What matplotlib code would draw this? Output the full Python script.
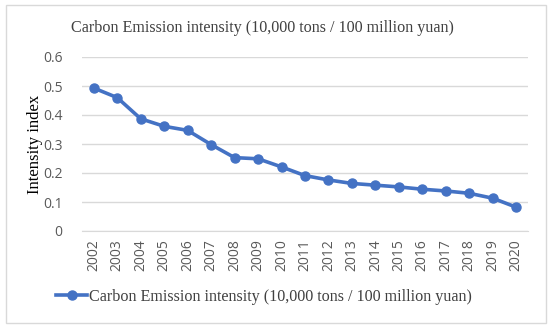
import matplotlib
matplotlib.use("Agg")
import matplotlib.pyplot as plt
from matplotlib.patches import Rectangle
from matplotlib.lines import Line2D

years = [str(y) for y in range(2002, 2021)]
values = [0.493, 0.460, 0.387, 0.361, 0.347, 0.298, 0.253, 0.249, 0.221, 0.191,
          0.176, 0.164, 0.158, 0.152, 0.144, 0.138, 0.130, 0.113, 0.082]
yticks = [0, 0.1, 0.2, 0.3, 0.4, 0.5, 0.6]
ytick_labels = ["0", "0.1", "0.2", "0.3", "0.4", "0.5", "0.6"]
title = "Carbon Emission intensity (10,000 tons / 100 million yuan)"
ylabel = "Intensity index"

W, H = 550, 326
fig = plt.figure(figsize=(W / 100, H / 100), dpi=100)
fig.patch.set_facecolor("white")

# outer chart border
fig.patches.append(Rectangle((6 / W, 3 / H), 540 / W, 318 / H, transform=fig.transFigure,
                             fill=False, edgecolor="#D9D9D9", linewidth=1))

ax = fig.add_axes([82 / W, 95 / H, 446 / W, 174 / H])
color = "#4472C4"
x = list(range(len(years)))
ax.plot(x, values, color=color, linewidth=2.6, marker="o", markersize=6.5)

ax.set_xlim(-0.5, len(years) - 0.5)
ax.set_ylim(0, 0.6)
ax.set_yticks(yticks)
ax.set_yticklabels(ytick_labels)
ax.set_xticks(x)
ax.set_xticklabels(years, rotation=90)
ax.grid(axis="y", color="#D9D9D9", linewidth=1)
ax.set_axisbelow(True)
for s in ["top", "right", "left"]:
    ax.spines[s].set_visible(False)
ax.spines["bottom"].set_color("#D9D9D9")
ax.tick_params(axis="y", length=0, labelsize=10, labelcolor="#595959", pad=14)
ax.tick_params(axis="x", length=0, labelsize=10, labelcolor="#595959", pad=6)
for lab in ax.get_xticklabels() + ax.get_yticklabels():
    lab.set_family("Open Sans")

ax.set_ylabel(ylabel, family="Liberation Serif", fontsize=12, color="#000000")
ax.yaxis.set_label_coords(-0.088, 0.5)

fig.text(0.478, 1 - 28 / H, title, ha="center", va="center",
         family="Liberation Serif", fontsize=11.6, color="#404040")

# legend
leg_handle = Line2D([], [], color=color, linewidth=2.6, marker="o", markersize=6.5)
fig.legend([leg_handle], [title], loc="center", bbox_to_anchor=(0.48, 1 - 297 / H),
           frameon=False, prop={"family": "Liberation Serif", "size": 11.6},
           handlelength=1.9, handletextpad=0.1, labelcolor="#404040")

fig.savefig("out.png", dpi=100, facecolor="white")
